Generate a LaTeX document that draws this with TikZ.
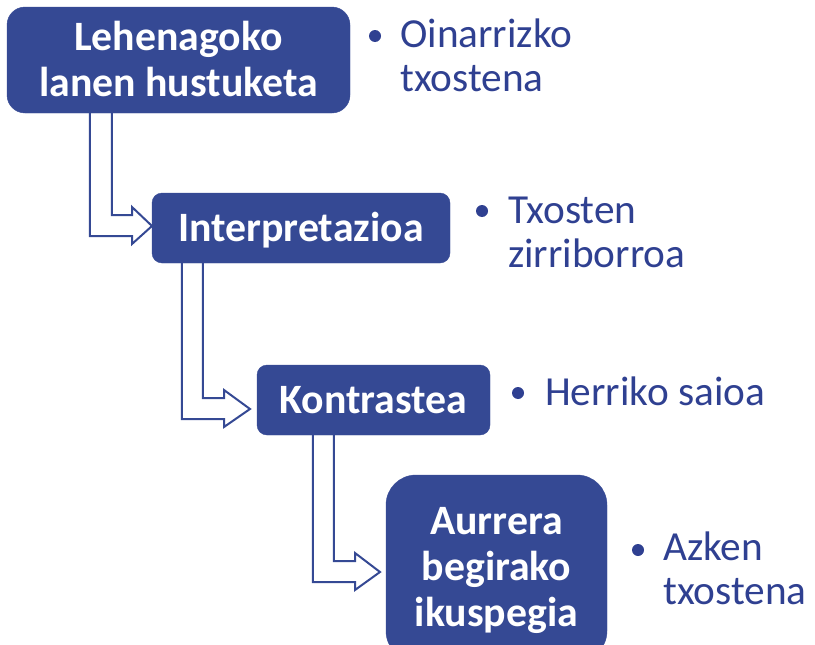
\documentclass[tikz,border=0pt]{standalone}
\usepackage{fontspec}
\setmainfont{Carlito}
\usetikzlibrary{calc}
\pgfdeclarelayer{background}
\pgfsetlayers{background,main}
\definecolor{boxblue}{RGB}{53,73,148}
\definecolor{txtblue}{RGB}{47,64,145}
\newcommand\ctrlines[2]{\vtop{\baselineskip=#1\halign{\hfil##\hfil\cr#2\crcr}}}
\newcommand\leftlines[1]{\vtop{\baselineskip=44pt\halign{##\hfil\cr#1\crcr}}}
\tikzset{
  box/.style={fill=boxblue, draw=boxblue, text=white, inner sep=0pt,
    font=\fontsize{41.8}{46.5}\selectfont\bfseries, text height=26.5pt},
  note/.style={text=txtblue, inner sep=0pt, anchor=base west,
    font=\fontsize{41.3}{44}\selectfont},
  dot/.style={circle, fill=txtblue, inner sep=0pt, minimum size=12pt},
  hollow/.style={draw=boxblue, line width=2pt, fill=white, line join=miter}
}
\begin{document}
\begin{tikzpicture}[x=1pt, y=-1pt]
\useasboundingbox (0,0) rectangle (815,645);
% boxes
\node[box, rounded corners=18pt, minimum width=343pt, minimum height=106pt, text depth=46.5pt] (b1) at (178.5,60) {\ctrlines{46.5pt}{Lehenagoko\cr lanen hustuketa}};
\node[box, rounded corners=10pt, minimum width=298pt, minimum height=70pt, text depth=0pt] (b2) at (301,228) {Interpretazioa};
\node[box, rounded corners=10pt, minimum width=233pt, minimum height=70pt, text depth=0pt] (b3) at (373.5,400) {Kontrastea};
\node[box, rounded corners=30pt, minimum width=221pt, minimum height=186pt, text depth=93pt] (b4) at (496.5,568) {\ctrlines{46pt}{Aurrera\cr begirako\cr ikuspegia}};
\coordinate (t1) at (152,226);
\coordinate (t2) at (250,409);
\coordinate (t3) at (380,572);
% bent hollow arrows
\begin{pgfonlayer}{background}
\draw[hollow] ($(b1.south west)+(105,-3)$) |- ($(t1)+(-20,-11)$) -- ++(0,-8) -- (t1) -- ++(-20,18) -- ++(0,-8) -| ($(b1.south west)+(83,-3)$) -- cycle;
\draw[hollow] ($(b2.south west)+(51,-3)$) |- ($(t2)+(-26,-11)$) -- ++(0,-8) -- (t2) -- ++(-26,18) -- ++(0,-8) -| ($(b2.south west)+(30,-3)$) -- cycle;
\draw[hollow] ($(b3.south west)+(77,-3)$) |- ($(t3)+(-25,-11)$) -- ++(0,-8) -- (t3) -- ++(-25,18) -- ++(0,-8) -| ($(b3.south west)+(56,-3)$) -- cycle;
\end{pgfonlayer}
% bullet notes
\node[dot] (d1) at (375,36) {};
\node[note] (n1) at (400,47) {\leftlines{Oinarrizko\cr txostena}};
\node[dot] (d2) at (482,211) {};
\node[note] (n2) at (508,223) {\leftlines{Txosten\cr zirriborroa}};
\node[dot] (d3) at (518,393) {};
\node[note] (n3) at (545,405) {Herriko saioa};
\node[dot] (d4) at (638,550) {};
\node[note] (n4) at (663,560) {\leftlines{Azken\cr txostena}};
\end{tikzpicture}
\end{document}
